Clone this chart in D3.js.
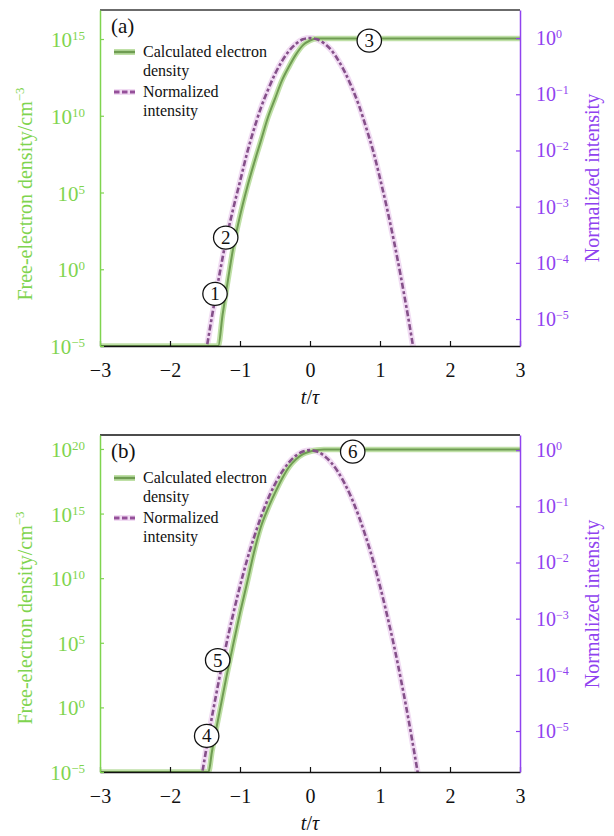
<!DOCTYPE html>
<html>
<head>
<meta charset="utf-8">
<script src="https://cdn.jsdelivr.net/npm/d3@7"></script>
<style>
  body { margin: 0; background: #fff; }
  svg, text, tspan { font-family: "Liberation Serif", "Times New Roman", serif; }
</style>
</head>
<body>
<div id="chart"></div>
<script>
// --- data ---
const xTicks = [-3, -2, -1, 0, 1, 2, 3];
const leftTicksA = [1e-5, 1, 1e5, 1e10, 1e15];
const leftTicksB = [1e-5, 1, 1e5, 1e10, 1e15, 1e20];
const rightTicks = [1e-5, 1e-4, 1e-3, 1e-2, 1e-1, 1];

// panel (a)
const timeDensityA = [-3, -1.31, -1.25, -1.2, -1.1, -1.0, -0.9, -0.8, -0.7, -0.6, -0.5, -0.4, -0.3, -0.2, -0.1, 0, 0.1, 0.2, 3];
const densityA = [1e-5, 1e-5, 1e-3, 3e-2, 20, 3e3, 2e5, 8e6, 2.5e8, 8e9, 1.3e11, 2e12, 1.6e13, 1e14, 4e14, 8e14, 1.07e15, 1.07e15, 1.07e15];
const timeIntensityA = [-1.5, -1.4, -1.3, -1.2, -1.1, -1.0, -0.9, -0.8, -0.7, -0.6, -0.5, -0.4, -0.3, -0.2, -0.1, 0,
  0.1, 0.2, 0.3, 0.4, 0.5, 0.6, 0.7, 0.8, 0.9, 1.0, 1.1, 1.2, 1.3, 1.4, 1.5];
const intensityA = [2.0e-6, 1.12e-5, 5.6e-5, 2.5e-4, 8.9e-4, 2.8e-3, 8.9e-3, 0.024, 0.058, 0.12, 0.23, 0.39, 0.59, 0.79, 0.95, 1,
  0.95, 0.81, 0.62, 0.41, 0.245, 0.13, 0.063, 0.026, 0.01, 3.2e-3, 9.3e-4, 2.4e-4, 5.5e-5, 1.12e-5, 2.0e-6];
const markerLabelsA = ['1', '2', '3'];
const markerTimeA = [-1.357, -1.204, 0.847];
const markerDensityA = [2.5e-2, 115, 7.8e14];

// panel (b)
const timeDensityB = [-3, -1.45, -1.4, -1.33, -1.2, -1.1, -1.0, -0.9, -0.8, -0.7, -0.6, -0.5, -0.4, -0.3, -0.2, -0.1, 0, 0.1, 0.2, 3];
const densityB = [1e-5, 1e-5, 4e-4, 0.04, 160, 6.3e4, 2e7, 4e9, 1e12, 1e14, 2.5e15, 4e16, 5e17, 4e18, 1.6e19, 4e19, 6.3e19, 8.3e19, 9e19, 9e19];
const timeIntensityB = [-1.6, -1.5, -1.4, -1.3, -1.2, -1.1, -1.0, -0.9, -0.8, -0.7, -0.6, -0.5, -0.4, -0.3, -0.2, -0.1, 0,
  0.1, 0.2, 0.3, 0.4, 0.5, 0.6, 0.7, 0.8, 0.9, 1.0, 1.1, 1.2, 1.3, 1.4, 1.5, 1.6];
const intensityB = [6.3e-7, 3.5e-6, 1.8e-5, 8.1e-5, 3.3e-4, 1.17e-3, 3.8e-3, 0.011, 0.028, 0.065, 0.135, 0.248, 0.41, 0.605, 0.8, 0.946, 1,
  0.946, 0.8, 0.605, 0.41, 0.248, 0.135, 0.065, 0.028, 0.011, 3.8e-3, 1.17e-3, 3.3e-4, 8.1e-5, 1.8e-5, 3.5e-6, 6.3e-7];
const markerLabelsB = ['4', '5', '6'];
const markerTimeB = [-1.476, -1.319, 0.61];
const markerDensityB = [6.2e-3, 4.5e3, 6.2e19];

const legendLabels = [['Calculated electron', 'density'], ['Normalized', 'intensity']];

const green = '#7fd44f';
const purple = '#9043ef';
const serif = '"Liberation Serif", "Times New Roman", serif';

const svg = d3.select('#chart')
  .append('svg')
  .attr('width', 614)
  .attr('height', 836)
  .attr('font-family', serif);

// "10" with the exponent raised
function powerLabel(sel, supSize, supShift) {
  sel.text('10')
    .append('tspan')
    .attr('font-size', supSize)
    .attr('dy', -supShift)
    .text(d => {
      const e = Math.round(Math.log10(d));
      return e < 0 ? '\u2212' + Math.abs(e) : e;
    });
}

function drawPanel(p) {
  const x = d3.scaleLinear().domain([-3, 3]).range([100, 520]);
  const yL = d3.scaleLog().domain(p.leftDomain).range([p.bottom, p.top]);
  const yR = d3.scaleLog().domain(p.rightDomain).range([p.bottom, p.top]);

  const g = svg.append('g');

  g.append('clipPath').attr('id', 'clip' + p.name)
    .append('rect')
    .attr('x', 100).attr('y', p.top)
    .attr('width', 420).attr('height', p.bottom - p.top);

  const plot = g.append('g').attr('clip-path', `url(#clip${p.name})`);

  const densityLine = d3.line()
    .x(d => x(d[0]))
    .y(d => yL(d[1]))
    .curve(d3.curveMonotoneX);
  const intensityLine = d3.line()
    .x(d => x(d[0]))
    .y(d => yR(d[1]))
    .curve(d3.curveMonotoneX);

  const dens = d3.zip(p.timeDensity, p.density);
  const inten = d3.zip(p.timeIntensity, p.intensity);

  // halos first
  plot.append('path').attr('d', intensityLine(inten))
    .attr('fill', 'none').attr('stroke', '#f1dcf3').attr('stroke-width', 6);
  plot.append('path').attr('d', densityLine(dens))
    .attr('fill', 'none').attr('stroke', '#bfe0a6').attr('stroke-width', 5.5);
  plot.append('path').attr('d', densityLine(dens))
    .attr('fill', 'none').attr('stroke', '#6f9c52').attr('stroke-width', 2);
  plot.append('path').attr('d', intensityLine(inten))
    .attr('fill', 'none').attr('stroke', '#85508a').attr('stroke-width', 2.6)
    .attr('stroke-dasharray', '6,2.5,3,2.5');

  // top border
  g.append('line')
    .attr('x1', 100).attr('x2', 520)
    .attr('y1', p.top).attr('y2', p.top)
    .attr('stroke', p.frameColor).attr('stroke-width', 1.5);

  // bottom axis
  const xAxis = g.append('g')
    .attr('transform', `translate(0,${p.bottom})`)
    .call(d3.axisBottom(x)
      .tickValues(xTicks)
      .tickSizeInner(-5)
      .tickSizeOuter(0)
      .tickPadding(17)
      .tickFormat(d => d < 0 ? '\u2212' + Math.abs(d) : d));
  xAxis.attr('font-family', serif);
  xAxis.select('.domain').attr('stroke', '#111').attr('stroke-width', 1.5);
  xAxis.selectAll('.tick line').attr('stroke', '#111').attr('stroke-width', 1.2);
  xAxis.selectAll('text').attr('font-size', 20).attr('fill', '#111');

  // left axis
  const yAxisL = g.append('g')
    .attr('transform', 'translate(100,0)')
    .call(d3.axisLeft(yL)
      .tickValues(p.leftTicks)
      .tickSizeInner(-4)
      .tickSizeOuter(0)
      .tickFormat(''));
  yAxisL.select('.domain').attr('stroke', green).attr('stroke-width', 1.5);
  yAxisL.selectAll('.tick line').attr('stroke', green).attr('stroke-width', 1.2);

  g.append('g').selectAll('text')
    .data(p.leftTicks)
    .join('text')
    .attr('x', 85)
    .attr('y', d => yL(d) + 8)
    .attr('text-anchor', 'end')
    .attr('font-size', 21)
    .attr('fill', green)
    .call(powerLabel, 13, 7);

  // right axis
  const yAxisR = g.append('g')
    .attr('transform', 'translate(520,0)')
    .call(d3.axisRight(yR)
      .tickValues(rightTicks)
      .tickSizeInner(-4)
      .tickSizeOuter(0)
      .tickFormat(''));
  yAxisR.select('.domain').attr('stroke', purple).attr('stroke-width', 1.5);
  yAxisR.selectAll('.tick line').attr('stroke', purple).attr('stroke-width', 1.2);

  g.append('g').selectAll('text')
    .data(rightTicks)
    .join('text')
    .attr('x', 536)
    .attr('y', d => yR(d) + 7)
    .attr('font-size', 20)
    .attr('fill', purple)
    .call(powerLabel, 12, 7);

  // axis titles
  const leftTitle = g.append('text')
    .attr('transform', `translate(32,${p.leftTitleY}) rotate(-90)`)
    .attr('text-anchor', 'middle')
    .attr('font-size', 20)
    .attr('fill', green)
    .text('Free-electron density/cm');
  leftTitle.append('tspan').attr('font-size', 13).attr('dy', -8).text('\u22123');

  g.append('text')
    .attr('transform', `translate(599,${p.rightTitleY}) rotate(-90)`)
    .attr('text-anchor', 'middle')
    .attr('font-size', 20)
    .attr('fill', purple)
    .text('Normalized intensity');

  const xTitle = g.append('text')
    .attr('x', 310)
    .attr('y', p.bottom + 58)
    .attr('text-anchor', 'middle')
    .attr('font-size', 20)
    .attr('fill', '#111');
  xTitle.append('tspan').attr('font-style', 'italic').text('t');
  xTitle.append('tspan').text('/');
  xTitle.append('tspan').attr('font-style', 'italic').text('\u03c4');

  // panel letter
  g.append('text')
    .attr('x', 111)
    .attr('y', p.top + 23)
    .attr('font-size', 21)
    .attr('fill', '#111')
    .text(p.letter);

  // legend
  const lg = g.append('g').attr('transform', `translate(0,${p.top + p.legendOffset})`);
  lg.append('line').attr('x1', 114).attr('x2', 135).attr('y1', 0).attr('y2', 0)
    .attr('stroke', '#bfe0a6').attr('stroke-width', 6);
  lg.append('line').attr('x1', 114).attr('x2', 135).attr('y1', 0).attr('y2', 0)
    .attr('stroke', '#6f9c52').attr('stroke-width', 2.5);
  lg.append('line').attr('x1', 114).attr('x2', 135).attr('y1', 40).attr('y2', 40)
    .attr('stroke', '#f1dcf3').attr('stroke-width', 6);
  lg.append('line').attr('x1', 114).attr('x2', 135).attr('y1', 40).attr('y2', 40)
    .attr('stroke', '#95509a').attr('stroke-width', 3)
    .attr('stroke-dasharray', '5.5,2.5');
  legendLabels.forEach((lines, i) => {
    lines.forEach((s, j) => {
      lg.append('text')
        .attr('x', 143)
        .attr('y', i * 40 + j * 19 + 5)
        .attr('font-size', 16)
        .attr('fill', '#111')
        .text(s);
    });
  });

  // circled markers
  const markers = g.append('g').selectAll('g')
    .data(d3.zip(p.markerLabels, p.markerTime, p.markerDensity))
    .join('g')
    .attr('transform', d => `translate(${x(d[1])},${yL(d[2])})`);
  markers.append('ellipse')
    .attr('rx', 12.2).attr('ry', 11.5)
    .attr('fill', '#fff').attr('stroke', '#111').attr('stroke-width', 1.3);
  markers.append('text')
    .attr('y', 6.5)
    .attr('text-anchor', 'middle')
    .attr('font-size', 19)
    .attr('fill', '#111')
    .text(d => d[0]);
}

drawPanel({
  name: 'a', letter: '(a)', top: 10, bottom: 346,
  leftDomain: [1e-5, Math.pow(10, 16.89)],
  rightDomain: [Math.pow(10, -5.48), Math.pow(10, 0.5)],
  leftTicks: leftTicksA,
  timeDensity: timeDensityA, density: densityA,
  timeIntensity: timeIntensityA, intensity: intensityA,
  markerLabels: markerLabelsA, markerTime: markerTimeA, markerDensity: markerDensityA,
  leftTitleY: 194, rightTitleY: 178, legendOffset: 42, frameColor: '#3a3a3a'
});

drawPanel({
  name: 'b', letter: '(b)', top: 435, bottom: 772,
  leftDomain: [1e-5, Math.pow(10, 21.08)],
  rightDomain: [Math.pow(10, -5.73), Math.pow(10, 0.27)],
  leftTicks: leftTicksB,
  timeDensity: timeDensityB, density: densityB,
  timeIntensity: timeIntensityB, intensity: intensityB,
  markerLabels: markerLabelsB, markerTime: markerTimeB, markerDensity: markerDensityB,
  leftTitleY: 618, rightTitleY: 604, legendOffset: 43, frameColor: '#111'
});
</script>
</body>
</html>
